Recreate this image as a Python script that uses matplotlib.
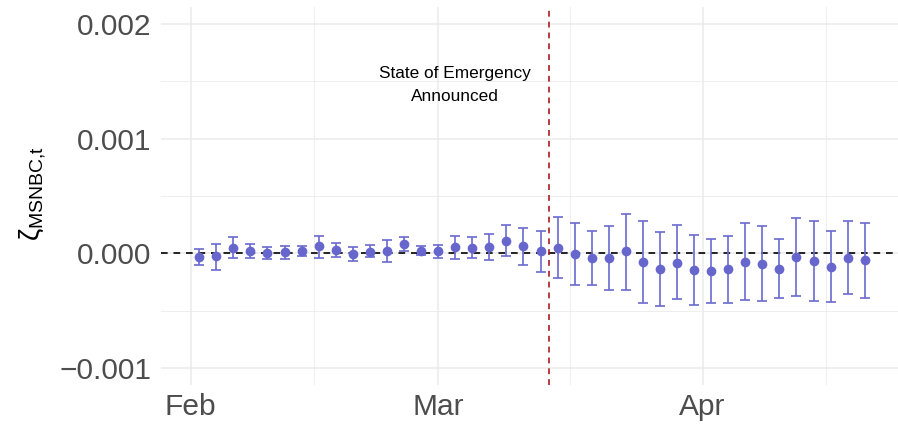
import matplotlib
matplotlib.use("Agg")
import matplotlib.pyplot as plt
import matplotlib.dates as mdates
import numpy as np
import pandas as pd

plt.rcParams['font.family'] = 'Liberation Sans'
plt.rcParams['mathtext.fontset'] = 'custom'
plt.rcParams['mathtext.rm'] = 'Liberation Sans'
plt.rcParams['mathtext.it'] = 'Liberation Sans'

# two-day estimates of zeta with their interval bounds (units of 1e-3)
dates = pd.date_range('2020-02-02', periods=40, freq='2D')
estimate = [-0.032, -0.026, 0.050, 0.020, 0.003, 0.009, 0.017, 0.061, 0.032, -0.003,
            0.015, 0.020, 0.078, 0.020, 0.017, 0.055, 0.050, 0.055, 0.107, 0.061,
            0.020, 0.048, -0.003, -0.041, -0.041, 0.017, -0.076, -0.139, -0.081, -0.148,
            -0.155, -0.133, -0.076, -0.090, -0.133, -0.032, -0.067, -0.116, -0.038, -0.061]
upper = [0.041, 0.085, 0.142, 0.078, 0.055, 0.064, 0.061, 0.154, 0.093, 0.055,
         0.070, 0.119, 0.142, 0.061, 0.072, 0.154, 0.139, 0.166, 0.244, 0.221,
         0.194, 0.317, 0.267, 0.194, 0.235, 0.346, 0.282, 0.186, 0.244, 0.157,
         0.122, 0.154, 0.264, 0.241, 0.125, 0.311, 0.279, 0.192, 0.279, 0.262]
lower = [-0.105, -0.142, -0.041, -0.038, -0.052, -0.046, -0.020, -0.041, -0.032, -0.067,
         -0.032, -0.076, 0.017, -0.011, -0.041, -0.046, -0.038, -0.058, -0.020, -0.099,
         -0.163, -0.218, -0.273, -0.273, -0.317, -0.317, -0.433, -0.459, -0.395, -0.453,
         -0.433, -0.430, -0.410, -0.416, -0.390, -0.375, -0.413, -0.425, -0.355, -0.387]
emergency_date = pd.Timestamp('2020-03-14')
note_date = pd.Timestamp('2020-03-03')

est = np.array(estimate) * 1e-3
lo = np.array(lower) * 1e-3
hi = np.array(upper) * 1e-3

fig = plt.figure(figsize=(8.98, 4.25), dpi=100)
ax = fig.add_axes([161 / 898, 40 / 425, 737 / 898, 378 / 425])

grid = '#EBEBEB'
feb1 = pd.Timestamp('2020-02-01')
x0 = mdates.date2num(feb1)
ax.set_xlim(x0 - 3.48, x0 + 82.9)
ax.set_ylim(-0.00115, 0.00215)

# month majors, mid-month minors
majors = [pd.Timestamp('2020-02-01'), pd.Timestamp('2020-03-01'), pd.Timestamp('2020-04-01')]
ax.set_xticks(majors)
ax.set_xticklabels(['Feb', 'Mar', 'Apr'])
ax.set_xticks([x0 + 14.5, x0 + 44.5, x0 + 74.5], minor=True)
ax.set_yticks([-0.001, 0.0, 0.001, 0.002])
ax.set_yticklabels(['\u22120.001', '0.000', '0.001', '0.002'])
ax.set_yticks([-0.0005, 0.0005, 0.0015], minor=True)

ax.grid(which='major', color=grid, lw=1.1)
ax.grid(which='minor', color=grid, lw=0.6)
ax.set_axisbelow(True)
for s in ax.spines.values():
    s.set_visible(False)
ax.tick_params(which='both', length=0)
ax.tick_params(axis='both', labelsize=21.5, labelcolor='#4D4D4D')
ax.tick_params(axis='y', pad=6.7)
ax.tick_params(axis='x', pad=6)

ax.axhline(0, color='black', lw=1.2, ls=(0, (4, 3.5)), zorder=2)
ax.axvline(emergency_date, color='#A81C24', lw=1.2, ls=(0, (3.5, 3)), zorder=2)

ax.errorbar(dates, est, yerr=[est - lo, hi - est], fmt='none',
            ecolor='#6A6ACF', elinewidth=1.2, capsize=3.3, capthick=1.2, zorder=3)
ax.plot(dates, est, 'o', color='#6666CC', ms=7, mec='none', zorder=4)

ax.text(note_date, 0.00147, 'State of Emergency\nAnnounced', ha='center', va='center',
        fontsize=12.4, linespacing=1.7)

fig.text(33 / 898, 1 - 194 / 425, r'$\zeta_{\mathrm{MSNBC{,}t}}$',
         rotation=90, ha='center', va='center', fontsize=20)

fig.savefig('out.png', dpi=100)
